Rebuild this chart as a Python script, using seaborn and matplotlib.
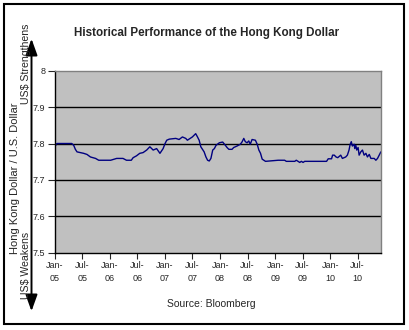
import matplotlib
matplotlib.use("Agg")
import matplotlib.pyplot as plt
from matplotlib.patches import Rectangle, FancyArrowPatch
import pandas as pd
import seaborn as sns

# HKD per USD, sampled along the series
dates = [
    "2005-01-01", "2005-01-05", "2005-01-14", "2005-04-22", "2005-05-05", "2005-05-16",
    "2005-05-27", "2005-07-10", "2005-08-01", "2005-08-24", "2005-09-27", "2005-10-18",
    "2006-01-05", "2006-02-14", "2006-03-28", "2006-04-20", "2006-05-22", "2006-06-03",
    "2006-06-25", "2006-07-17", "2006-08-08", "2006-09-01", "2006-09-22", "2006-10-14",
    "2006-11-06", "2006-11-28", "2006-12-19", "2007-01-01", "2007-01-12", "2007-01-29",
    "2007-03-13", "2007-04-04", "2007-04-26", "2007-05-18", "2007-05-29", "2007-07-01",
    "2007-07-23", "2007-08-04", "2007-08-15", "2007-08-26", "2007-09-17", "2007-09-29",
    "2007-10-10", "2007-10-21", "2007-11-01", "2007-11-13", "2007-11-24", "2007-12-05",
    "2007-12-27", "2008-01-18", "2008-02-05", "2008-02-16", "2008-02-28", "2008-03-20",
    "2008-03-31", "2008-04-22", "2008-05-14", "2008-05-25", "2008-06-06", "2008-06-16",
    "2008-06-28", "2008-07-09", "2008-07-19", "2008-07-31", "2008-08-22", "2008-09-03",
    "2008-09-14", "2008-09-25", "2008-10-06", "2008-10-17", "2008-10-28", "2008-12-23",
    "2009-01-20", "2009-03-04", "2009-03-15", "2009-05-10", "2009-05-20", "2009-06-01",
    "2009-06-12", "2009-06-23", "2009-07-04", "2009-07-15", "2009-12-07", "2009-12-18",
    "2010-01-09", "2010-01-16", "2010-01-27", "2010-02-08", "2010-02-19", "2010-03-11",
    "2010-03-22", "2010-04-13", "2010-04-24", "2010-05-05", "2010-05-12", "2010-05-20",
    "2010-05-27", "2010-06-08", "2010-06-12", "2010-06-19", "2010-06-25", "2010-07-04",
    "2010-07-11", "2010-07-22", "2010-08-02", "2010-08-13", "2010-08-25", "2010-09-04",
    "2010-09-16", "2010-09-27", "2010-10-19", "2010-10-30", "2010-11-10", "2010-11-21",
    "2010-12-02",
]
hkd_per_usd = [
    7.796, 7.795, 7.800, 7.800, 7.795, 7.784,
    7.777, 7.773, 7.770, 7.763, 7.759, 7.754,
    7.754, 7.759, 7.759, 7.754, 7.754, 7.761,
    7.766, 7.773, 7.775, 7.782, 7.791, 7.782,
    7.786, 7.773, 7.786, 7.800, 7.809, 7.812,
    7.814, 7.811, 7.818, 7.814, 7.809, 7.818,
    7.827, 7.818, 7.809, 7.791, 7.777, 7.763,
    7.754, 7.752, 7.759, 7.782, 7.786, 7.795,
    7.802, 7.804, 7.795, 7.789, 7.784, 7.784,
    7.789, 7.793, 7.798, 7.804, 7.814, 7.805,
    7.802, 7.807, 7.798, 7.811, 7.809, 7.798,
    7.782, 7.773, 7.757, 7.754, 7.751, 7.753,
    7.754, 7.754, 7.751, 7.751, 7.754, 7.751,
    7.748, 7.751, 7.748, 7.751, 7.751, 7.758,
    7.758, 7.768, 7.768, 7.763, 7.761, 7.768,
    7.759, 7.763, 7.768, 7.782, 7.797, 7.805,
    7.793, 7.798, 7.786, 7.795, 7.782, 7.789,
    7.768, 7.777, 7.782, 7.768, 7.773, 7.763,
    7.770, 7.759, 7.759, 7.754, 7.759, 7.768,
    7.777,
]
y_ticks = [7.5, 7.6, 7.7, 7.8, 7.9, 8.0]
y_tick_labels = ["7.5", "7.6", "7.7", "7.8", "7.9", "8"]
x_tick_dates = ["2005-01-01", "2005-07-01", "2006-01-01", "2006-07-01",
                "2007-01-01", "2007-07-01", "2008-01-01", "2008-07-01",
                "2009-01-01", "2009-07-01", "2010-01-01", "2010-07-01"]
x_tick_labels = ["Jan-\n05", "Jul-\n05", "Jan-\n06", "Jul-\n06", "Jan-\n07", "Jul-\n07",
                 "Jan-\n08", "Jul-\n08", "Jan-\n09", "Jul-\n09", "Jan-\n10", "Jul-\n10"]

df = pd.DataFrame({"date": pd.to_datetime(dates), "rate": hkd_per_usd})

sns.set_style("white")
plt.rcParams["font.family"] = ["Liberation Sans", "DejaVu Sans"]

W, H = 409, 330
fig = plt.figure(figsize=(W / 100, H / 100), dpi=100)
fig.patch.set_facecolor("white")

def fx(px):
    return px / W

def fy(py):
    return 1 - py / H

ax = fig.add_axes([fx(55), fy(252.7), fx(381) - fx(55), fy(70.7) - fy(252.7)])
ax.set_facecolor("#c0c0c0")

sns.lineplot(data=df, x="date", y="rate", ax=ax, color="#000080", linewidth=1.0)

ax.set_ylim(7.5, 8.0)
ax.set_xlim(pd.Timestamp("2005-01-01"), pd.Timestamp("2010-12-03"))
ax.set_yticks(y_ticks)
ax.set_yticklabels(y_tick_labels)
ax.set_xticks(pd.to_datetime(x_tick_dates))
ax.set_xticklabels(x_tick_labels, linespacing=1.6)
ax.tick_params(axis="y", direction="out", length=5, width=0.8, labelsize=6.5, pad=2, left=True)
ax.tick_params(axis="x", direction="out", length=4, width=0.8, labelsize=6.5, pad=2, bottom=True)
ax.set_xlabel("")
ax.set_ylabel("")

for g in [7.6, 7.7, 7.8, 7.9]:
    ax.axhline(g, color="black", linewidth=1.0, zorder=1)

for side in ["top", "right"]:
    ax.spines[side].set_color("#808080")
    ax.spines[side].set_linewidth(1.0)
for side in ["left", "bottom"]:
    ax.spines[side].set_color("black")
    ax.spines[side].set_linewidth(1.0)

fig.text(fx(207), fy(33), "Historical Performance of the Hong Kong Dollar",
         ha="center", va="center", fontsize=8.4, fontweight="bold")
fig.text(fx(211), fy(304), "Source: Bloomberg", ha="center", va="center", fontsize=7.5)
fig.text(fx(15), fy(178), "Hong Kong Dollar / U.S. Dollar", rotation=90,
         ha="center", va="center", fontsize=8)
fig.text(fx(26), fy(64), "US$ Strengthens", rotation=90,
         ha="center", va="center", fontsize=7.6)
fig.text(fx(26), fy(265), "US$ Weakens", rotation=90,
         ha="center", va="center", fontsize=7.6)

arrow = FancyArrowPatch((fx(31.5), fy(314)), (fx(31.5), fy(36)), transform=fig.transFigure,
                        arrowstyle="<|-|>,head_length=5,head_width=1.8",
                        color="black", linewidth=1.4, mutation_scale=2)
fig.patches.append(arrow)

fig.patches.append(Rectangle((fx(4), fy(324)), fx(404) - fx(4), fy(4) - fy(324),
                             transform=fig.transFigure, fill=False,
                             edgecolor="black", linewidth=1.5))

fig.savefig("out.png", dpi=100)
